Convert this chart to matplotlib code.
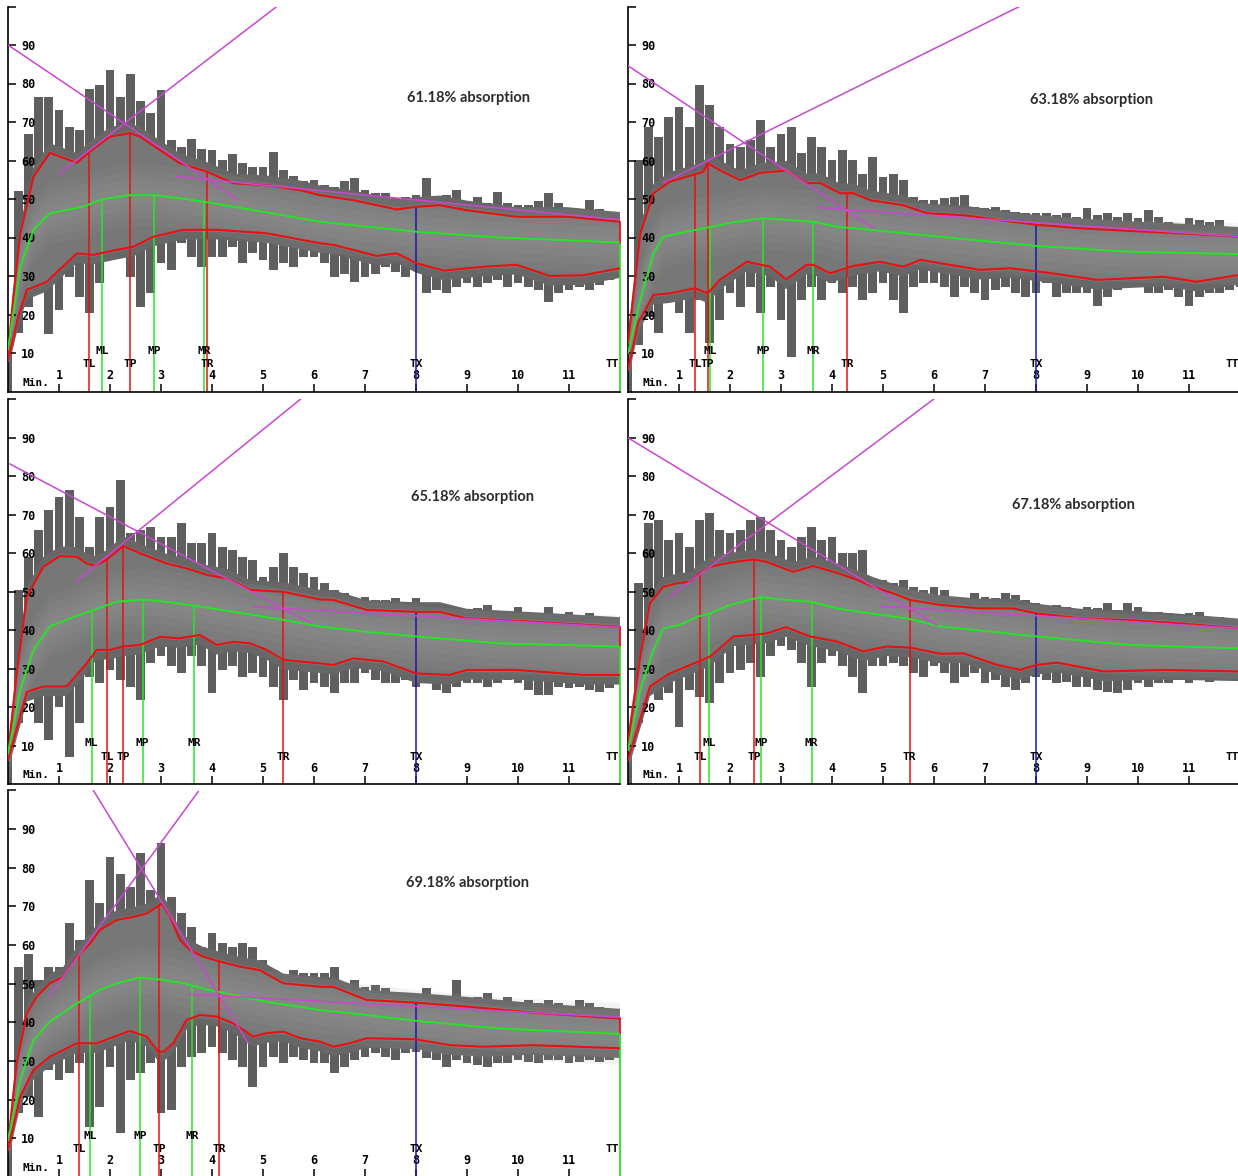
import numpy as np
import matplotlib.pyplot as plt

plt.rcParams['font.family'] = ['DejaVu Sans Mono']

# raw torque signal is sampled every 0.2 min; top/bottom of the noisy trace
raw_t = np.arange(0, 12.01, 0.2)

# ---------- panel 1 : 61.18 % ----------
p1_label = "61.18% absorption"
p1_top = [15, 52, 67, 76.6, 76.6, 73, 68.8, 68, 78.7, 79.6, 83.5, 76.6, 82.5, 75.4, 72.4,
          78.3, 65.3, 63.6, 65.7, 63.1, 62.7, 60.1, 61.8, 59.3, 58.4, 58.4, 62.3, 57.6, 55.9,
          54.6, 55.0, 53.6, 53.2, 54.6, 55.4, 52.3, 51.5, 51.5, 50.2, 50.6, 51.0, 55.4, 50.6,
          51.0, 52.3, 49.4, 50.6, 49.0, 51.9, 49.0, 48.5, 48.5, 49.4, 51.5, 49.0, 47.7, 47.3,
          49.8, 47.3, 46.4, 46.0]
p1_bottom = [0, 15.1, 22, 26.3, 14.9, 21.2, 29.8, 24.6, 20.3, 28.1, 35, 35.8, 29.8, 22, 25.5,
             33.3, 31.5, 38.5, 35, 32.4, 35, 35, 37.6, 33.3, 35.9, 34.1, 31.5, 33.3, 32.4, 35,
             35, 33.3, 29.8, 30.6, 28.5, 29.8, 30.6, 32.4, 31, 29.8, 31.5, 25.5, 26.3, 25.5,
             27.2, 28.1, 27.2, 28.1, 29, 27.2, 28.1, 27.2, 26.3, 23.3, 25.5, 26.3, 27.2, 26.3,
             27.6, 29, 29.8]
p1_upper = [(0, 9), (0.1, 23.8), (0.24, 41), (0.5, 55.8), (0.82, 62), (1.35, 59.4), (1.6, 62.3),
            (2.0, 66.2), (2.39, 67.1), (2.59, 66.2), (2.98, 62.7), (3.37, 59.3), (3.9, 57.1),
            (4.42, 54.1), (5.07, 53.6), (5.73, 52.3), (6.12, 51.0), (6.77, 49.7), (7.62, 47.3),
            (8.01, 48.0), (8.47, 48.4), (8.99, 47.1), (9.97, 45.4), (10.95, 45.4), (12, 44.1)]
p1_mid = [(0, 11), (0.24, 32.4), (0.5, 42), (0.82, 46.3), (1.48, 48), (1.84, 49.9), (2.39, 51),
          (2.85, 51), (3.37, 50.2), (3.83, 49.3), (4.42, 48), (6.12, 44.1), (6.77, 43.2),
          (8.01, 41.5), (9.65, 40), (12, 38.7)]
p1_lower = [(0, 8), (0.2, 19.4), (0.37, 26.4), (0.76, 28.5), (1.35, 35.9), (1.67, 35.5),
            (2.13, 36.8), (2.46, 37.6), (2.85, 40.2), (3.44, 42), (4.09, 42), (5.07, 41.1),
            (6.12, 38.5), (6.38, 38.1), (7.23, 35.2), (7.62, 35.9), (8.01, 33.3), (8.54, 31.4),
            (9.32, 32.4), (9.97, 32.9), (10.63, 30), (11.28, 30.2), (12, 32)]
p1_marks = [("TL", 1.59), ("ML", 1.85), ("TP", 2.39), ("MP", 2.86), ("MR", 3.84), ("TR", 3.91),
            ("TX", 8.0), ("TT", 12.0)]
p1_tangents = [(0, 90, 4.48, 50), (0.99, 56.5, 5.27, 100), (3.31, 55.8, 12, 44.6)]

# ---------- panel 2 : 63.18 % ----------
p2_label = "63.18% absorption"
p2_top = [12, 60, 68.8, 66.2, 71.4, 74, 68.8, 79.6, 74.4, 68.8, 64.4, 63.6, 65.3, 70.5, 63.6,
          67, 68.8, 61.9, 66.2, 63.6, 60.1, 62.7, 60.1, 56.6, 61, 55.8, 56.6, 54.9, 50.6, 49.7,
          49.7, 50.2, 50.6, 51, 48, 47.6, 48, 47.2, 46.7, 46.3, 46.3, 46.3, 45.8, 46.3, 45.4,
          47.6, 45.8, 46.3, 45.4, 46.3, 45, 47.2, 45.4, 44.1, 42.8, 45, 44.6, 44.1, 44.6, 42.8, 42]
p2_bottom = [0, 12, 19.4, 15.1, 23.8, 20.3, 15.1, 23.8, 12.5, 18.6, 25.5, 22, 27.2, 20.3, 27.2,
             18.6, 9, 23.8, 27.2, 23.8, 28.1, 25.5, 27.2, 23.8, 25.5, 28.1, 23.8, 20.3, 27.2,
             28.1, 28.1, 27.2, 24.6, 27.2, 25.5, 23.8, 26.3, 27.2, 25.5, 24.6, 25.5, 28.1, 24.6,
             25.5, 25.5, 25.5, 22.3, 24.6, 26.3, 27.2, 27.2, 25.5, 25.5, 26.3, 24.6, 22.3, 24.6,
             25.5, 25.5, 26.3, 27.2]
p2_upper = [(0, 12.5), (0.24, 41), (0.5, 51.5), (0.82, 54.5), (1.15, 55.8), (1.48, 57.1),
            (1.56, 59.3), (1.8, 57.5), (2.2, 54.9), (2.59, 56.8), (3.1, 57.4), (3.5, 54.1),
            (3.76, 54.2), (4.16, 51.5), (4.42, 51.5), (4.75, 49.7), (5.4, 48.4), (5.86, 46.3),
            (6.58, 45.8), (7.24, 44.6), (8.01, 43.3), (8.86, 42.4), (9.84, 41.7), (10.82, 41.1),
            (12, 40.2)]
p2_mid = [(0, 10), (0.24, 23.8), (0.5, 35.9), (0.69, 40.2), (1.15, 41.5), (1.64, 42.8),
          (2.13, 44.1), (2.65, 45), (3.1, 44.6), (3.63, 44.1), (4.09, 42.8), (4.75, 42),
          (6.12, 40.2), (8.01, 37.8), (9.84, 36.3), (12, 35.7)]
p2_lower = [(0, 5.6), (0.2, 18), (0.5, 25.1), (0.82, 25.5), (1.31, 26.8), (1.56, 25.5), (1.8, 29),
            (2.33, 33.7), (2.79, 32.4), (3.1, 29.1), (3.5, 32.9), (3.63, 32.9), (3.96, 30.7),
            (4.42, 32.6), (4.94, 33.7), (5.4, 32.4), (5.73, 34.2), (6.12, 33.3), (6.9, 31.6),
            (7.49, 32), (8.2, 30.9), (9.19, 29), (10.5, 29.8), (11.15, 28.5), (12, 30.3)]
p2_marks = [("TL", 1.31), ("TP", 1.56), ("ML", 1.61), ("MP", 2.65), ("MR", 3.63), ("TR", 4.29),
            ("TX", 8.0), ("TT", 12.0)]
p2_tangents = [(0, 84.6, 4.81, 42.4), (0.69, 54.2, 7.69, 100.1), (3.7, 47.8, 12, 40.2)]

# ---------- panel 3 : 65.18 % ----------
p3_label = "65.18% absorption"
p3_top = [12, 50.4, 59.1, 66.1, 71.3, 74.7, 76.4, 69.5, 61.7, 69.5, 72.1, 79, 65.2, 66.1, 66.9,
          64.3, 64.3, 67.8, 62.6, 62.6, 65.2, 61.7, 60.9, 59.1, 58.3, 53.9, 56.5, 60, 56.5, 54.8,
          53.9, 52.2, 50.5, 49.6, 48.3, 48.7, 47.9, 47.9, 48.3, 47.4, 48.3, 45.7, 46.5, 45.7,
          45.7, 45.3, 45.7, 46.5, 44.8, 44.8, 46.1, 44.4, 43.5, 46.1, 43.1, 44.8, 43.5, 44.4,
          43.1, 42.7, 41.8]
p3_bottom = [0, 15.8, 24.5, 15.8, 11.5, 20.2, 7.2, 15.8, 28, 26.2, 29.7, 27.1, 25.4, 21.9, 31.4,
             33.2, 30.6, 28.8, 33.2, 30.6, 23.6, 29.7, 30.6, 28, 28.8, 28, 25.4, 21.9, 27.1, 24.5,
             26.2, 25.4, 23.6, 26.2, 26.2, 28.8, 27.1, 26.2, 26.2, 27.1, 25.4, 27.1, 24.5, 23.6,
             25.4, 26.2, 26.2, 25.4, 26.2, 27.1, 26.2, 24.5, 23.2, 23.2, 25.4, 25, 25.4, 24.5,
             24.1, 25, 26.2]
p3_upper = [(0, 7.2), (0.17, 28.8), (0.37, 48.7), (0.69, 56.5), (1.02, 59.3), (1.35, 59.1),
            (1.54, 57.4), (1.71, 56.8), (1.93, 58.3), (2.26, 61.9), (2.59, 60), (3.1, 57.4),
            (3.5, 56.1), (3.9, 54.4), (4.29, 53.5), (4.75, 50.5), (5.4, 50), (6.12, 48),
            (6.38, 47.9), (7.03, 45.3), (8.0, 44.8), (8.47, 44.8), (8.99, 43.1), (10.3, 42.2),
            (12, 40.9)]
p3_mid = [(0, 8), (0.24, 24.5), (0.5, 34.9), (0.82, 41), (1.48, 44.4), (2.13, 47.4), (2.65, 48),
          (3.1, 47.4), (3.7, 46.3), (4.42, 44.8), (5.4, 42.7), (6.12, 41), (7.03, 39.6),
          (8.0, 38.4), (9.65, 36.6), (12, 35.8)]
p3_lower = [(0, 6.3), (0.37, 24), (0.69, 25.4), (1.15, 25.4), (1.54, 31.4), (1.74, 34.9),
            (2.0, 34.9), (2.26, 35.8), (2.59, 36.2), (2.98, 38.3), (3.37, 37.9), (3.76, 38.8),
            (4.09, 36.2), (4.42, 37), (4.75, 36.6), (5.07, 34.9), (5.4, 32.3), (6.12, 31.4),
            (6.38, 31), (6.77, 32.7), (7.36, 31.9), (8.0, 28.8), (8.66, 28.4), (8.99, 29.7),
            (9.97, 29.7), (11.28, 28.4), (12, 28.4)]
p3_marks = [("ML", 1.64), ("TL", 1.95), ("TP", 2.26), ("MP", 2.64), ("MR", 3.65), ("TR", 5.4),
            ("TX", 8.0), ("TT", 12.0)]
p3_tangents = [(0.04, 83.2, 5.95, 41.8), (1.35, 52.9, 5.76, 100.3), (4.81, 46.1, 12, 40.8)]

# ---------- panel 4 : 67.18 % ----------
p4_label = "67.18% absorption"
p4_top = [12, 52.2, 67.8, 68.7, 63.5, 65.2, 61.7, 68.7, 70.4, 66.1, 65.2, 66.1, 68.7, 69.5, 66.1,
          63.5, 61.7, 64.3, 66.9, 63.5, 64.3, 60, 60, 60.9, 52.2, 53, 52.2, 53, 51.3, 50.5, 51.3,
          50.5, 48.7, 47.9, 49.6, 48.7, 48.3, 49.6, 49.2, 47.9, 47, 46.1, 46.5, 46.1, 45.3, 46.1,
          45.7, 47, 45.3, 47, 46.1, 43.5, 44.8, 44.4, 44, 44.4, 44.8, 42.7, 43.5, 42.7, 41.8]
p4_bottom = [0, 15.8, 24.5, 21.9, 23.6, 15, 24.5, 22.8, 21, 26.2, 28.8, 29.7, 31.4, 28, 33.2,
             35.8, 34.9, 31.4, 25.4, 31.4, 33.2, 30.6, 28, 23.6, 30.6, 30.6, 31.4, 30.6, 28.8, 28,
             30.6, 28.8, 26.2, 28, 28.8, 26.2, 27.1, 25.4, 24.5, 26.2, 28, 27.1, 26.2, 26.6, 25.4,
             25.4, 24.5, 24.1, 23.6, 24.5, 26.2, 25.4, 26.2, 26.2, 27.1, 26.2, 27.1, 26.6, 27.1,
             27.1, 27.1]
p4_upper = [(0, 10.6), (0.24, 33.2), (0.43, 47), (0.69, 51.3), (0.95, 52.2), (1.22, 52.6),
            (1.41, 54.8), (1.61, 56.5), (2.0, 57.6), (2.46, 58.4), (2.72, 57.8), (3.05, 56.1),
            (3.24, 55.2), (3.63, 56.7), (4.03, 55.2), (4.42, 53.5), (4.81, 51.3), (5.2, 49.6),
            (5.53, 47.9), (6.12, 46.6), (6.9, 45.7), (7.55, 45.7), (8.01, 44.4), (8.86, 43.1),
            (9.84, 42.6), (10.82, 41.8), (12, 40.5)]
p4_mid = [(0, 8.9), (0.24, 24.5), (0.5, 34.9), (0.69, 40.5), (1.02, 41.4), (1.35, 43.5),
          (1.61, 44.4), (2.0, 46.6), (2.59, 48.6), (3.1, 47.9), (3.6, 47.4), (4.09, 45.7),
          (4.75, 44.4), (5.46, 43.1), (6.12, 41), (8.01, 38.4), (9.84, 36.2), (12, 35.3)]
p4_lower = [(0, 6.3), (0.43, 25.4), (0.82, 28.8), (1.15, 30.6), (1.61, 33.2), (2.07, 38.4),
            (2.46, 38.8), (2.72, 39.2), (3.1, 40.8), (3.57, 38.4), (4.09, 37.1), (4.61, 34.5),
            (5.07, 35.8), (5.53, 35.5), (6.12, 33.9), (6.58, 34), (7.24, 31), (7.69, 29.7),
            (8.01, 31), (8.41, 31.6), (9.33, 29.3), (10.5, 29.7), (12, 29.3)]
p4_marks = [("TL", 1.42), ("ML", 1.59), ("TP", 2.48), ("MP", 2.61), ("MR", 3.6), ("TR", 5.52),
            ("TX", 8.0), ("TT", 12.0)]
p4_tangents = [(0, 90, 6.05, 41.4), (0.82, 48.7, 6.02, 100.3), (4.94, 46.3, 12, 40.5)]

# ---------- panel 5 : 69.18 % ----------
p5_label = "69.18% absorption"
p5_top = [12, 54.4, 57.8, 51, 54.4, 54.4, 65.6, 61.3, 76.8, 70.8, 82.8, 78.5, 75.1, 83.7, 74.2,
          86.3, 72.5, 68.2, 64.7, 59.6, 63, 60.4, 59.6, 60.4, 59.6, 56.1, 53.5, 51, 53.5, 52.7,
          52.7, 52.7, 54.4, 50.1, 51, 49.2, 49.6, 48.8, 47.9, 47.5, 47.1, 48.8, 46.6, 46.6, 51,
          45.8, 46.6, 47.5, 45.8, 46.6, 44.9, 45.8, 44.9, 45.8, 44.9, 44, 45.8, 44.9, 44, 43.2, 42.3]
p5_bottom = [0, 16.5, 20.8, 15.6, 27.7, 25.1, 26.8, 29.4, 13, 18.2, 28.5, 11.3, 25.1, 26.8, 29.4,
             16.5, 17.3, 28.5, 31.1, 32, 33.7, 32, 30.3, 28.5, 23.4, 28.5, 31.1, 29.4, 31.1, 30.3,
             29.4, 29.4, 26.8, 28.5, 30.3, 31.1, 32, 31.1, 30.3, 32, 32.4, 30.7, 30.3, 28.5, 30.3,
             29.4, 29, 28.5, 29.4, 29.4, 30.3, 29.8, 29.4, 30.3, 30.3, 29.4, 29.8, 30.3, 29.8,
             30.3, 31.1]
p5_upper = [(0, 7.8), (0.17, 29.4), (0.37, 42.3), (0.56, 46.6), (0.82, 50.1), (1.08, 51.8),
            (1.35, 57), (1.61, 60.4), (1.8, 63.9), (2.13, 66.5), (2.46, 67.3), (2.72, 68.2),
            (2.92, 69.9), (3.01, 70.8), (3.18, 67.3), (3.37, 61.3), (3.57, 58.7), (3.83, 57),
            (4.16, 55.7), (4.55, 54.4), (4.94, 53.5), (5.4, 50.1), (6.12, 49.2), (6.38, 49.2),
            (7.03, 45.8), (8.0, 45.1), (8.99, 44.1), (10.3, 42.5), (12, 41)]
p5_mid = [(0, 9.6), (0.24, 25.1), (0.5, 35.4), (0.82, 40.2), (1.35, 44.9), (1.8, 48.4),
          (2.13, 50.1), (2.59, 51.6), (2.98, 51.1), (3.44, 50.1), (3.9, 48.5), (4.42, 47.1),
          (5.07, 45.3), (6.12, 43.2), (7.03, 41.9), (8.0, 40.4), (9.65, 38.4), (12, 37)]
p5_lower = [(0, 7), (0.24, 20.8), (0.5, 27.7), (0.82, 31.1), (1.35, 34.6), (1.74, 34.6),
            (2.39, 37.8), (2.72, 36.3), (2.95, 32.4), (3.05, 32.4), (3.24, 34.6), (3.5, 40.6),
            (3.76, 41.9), (4.09, 41.5), (4.42, 39.7), (4.81, 36.3), (5.07, 37.2), (5.4, 37.6),
            (5.73, 35.9), (6.12, 35), (6.38, 33.7), (6.7, 34.6), (7.03, 35.9), (8.0, 35.6),
            (8.66, 34.1), (9.32, 33.7), (10.3, 34.1), (12, 33.3)]
p5_marks = [("TL", 1.39), ("ML", 1.61), ("MP", 2.59), ("TP", 2.96), ("MR", 3.61), ("TR", 4.14),
            ("TX", 8.0), ("TT", 12.0)]
p5_tangents = [(1.67, 100.1, 4.71, 34.6), (0.79, 46.6, 3.73, 99.7), (3.54, 47.3, 12, 41.3)]

# title anchors (min, value) for the absorption text
label_pos = [(9.02, 76.2), (9.08, 75.7), (9.11, 74.5), (8.73, 72.5), (9.0, 76.1)]

RED = '#e81010'
GREEN = '#28e428'
MAGENTA = '#c848d0'
BLUE = '#1818a8'


def draw_panel(ax, top, bottom, upper, mid, lower, marks, tangents, label, lpos):
    ut, uv = np.array(upper).T
    mt, mv = np.array(mid).T
    lt, lv = np.array(lower).T
    top = np.array(top)
    bottom = np.array(bottom)

    # noisy trace: spikes plus a solid band hugging the envelopes
    ax.bar(raw_t, top - bottom, bottom=bottom, width=0.17, color='#5f5f5f', lw=0, zorder=1)
    ax.fill(np.r_[ut, lt[::-1]], np.r_[uv + 2.5, lv[::-1] - 2.5], color='#676767', lw=0,
            zorder=1.1)
    ax.fill(np.r_[ut, lt[::-1]], np.r_[uv + 0.5, lv[::-1] - 0.5], color='#777777', lw=0,
            zorder=1.2)
    for d in (8, 6, 4, 2):
        ax.fill(np.r_[mt, mt[::-1]], np.r_[mv + d, mv[::-1] - d], color='#a0a0a0', alpha=0.12,
                lw=0, zorder=1.3)

    for name, t in marks:
        u_here = np.interp(t, ut, uv)
        m_here = np.interp(t, mt, mv)
        if name == "TT":
            ax.plot([t, t], [0, m_here], color=GREEN, lw=1.3, zorder=2, clip_on=False)
            ax.plot([t, t], [m_here, u_here], color=RED, lw=1.3, zorder=2, clip_on=False)
            ax.text(t - 0.02, 7.2, name, ha='right', va='center', fontsize=8,
                    fontweight='bold', zorder=6)
            continue
        if name == "TX":
            color, top_v = BLUE, u_here
        elif name.startswith("T"):
            color, top_v = RED, u_here
        else:
            color, top_v = GREEN, m_here
        ax.plot([t, t], [0, top_v], color=color, lw=1.1, zorder=2)
        ax.text(t, 10.6 if name.startswith("M") else 7.2, name, ha='center', va='center',
                fontsize=8, fontweight='bold', zorder=6)

    ax.plot(ut, uv, color=RED, lw=1.5, zorder=3)
    ax.plot(lt, lv, color=RED, lw=1.5, zorder=3)
    ax.plot(mt, mv, color=GREEN, lw=1.4, zorder=3)

    for x0, y0, x1, y1 in tangents:
        ax.plot([x0, x1], [y0, y1], color=MAGENTA, lw=1.1, zorder=4)

    ax.text(lpos[0], lpos[1], label, ha='center', va='center', fontfamily='Lato',
            fontsize=10.5, fontweight='bold', color='#2b2b2b')
    ax.text(0.28, 2.3, "Min.", ha='left', va='center', fontsize=8, fontweight='bold', zorder=6)

    ax.set_xlim(0, 12)
    ax.set_ylim(0, 100)
    ax.set_xticks(range(1, 12))
    ax.set_yticks(range(10, 101, 10))
    ax.set_yticklabels([str(v) for v in range(10, 100, 10)] + [''])
    ax.tick_params(direction='in', length=6, width=1.1, labelsize=8.5)
    ax.tick_params(axis='y', pad=-9.5)
    ax.tick_params(axis='x', pad=-7.0)
    for lab in ax.get_yticklabels() + ax.get_xticklabels():
        lab.set_fontweight('bold')
    for lab in ax.get_yticklabels():
        lab.set_horizontalalignment('left')
    for lab in ax.get_xticklabels():
        lab.set_verticalalignment('bottom')
    for side in ('top', 'right'):
        ax.spines[side].set_visible(False)
    for side in ('left', 'bottom'):
        ax.spines[side].set_linewidth(1.2)
    ax.set_facecolor('white')


fig = plt.figure(figsize=(12.38, 11.76), dpi=100)
W, H = 1238.0, 1176.0
col_left = [8 / W, 628 / W]
row_box = [(1 - 391.5 / H, 385 / H), (1 - 784.3 / H, 385 / H), (1 - 1177 / H, 386.6 / H)]

panels = [
    (p1_top, p1_bottom, p1_upper, p1_mid, p1_lower, p1_marks, p1_tangents, p1_label),
    (p2_top, p2_bottom, p2_upper, p2_mid, p2_lower, p2_marks, p2_tangents, p2_label),
    (p3_top, p3_bottom, p3_upper, p3_mid, p3_lower, p3_marks, p3_tangents, p3_label),
    (p4_top, p4_bottom, p4_upper, p4_mid, p4_lower, p4_marks, p4_tangents, p4_label),
    (p5_top, p5_bottom, p5_upper, p5_mid, p5_lower, p5_marks, p5_tangents, p5_label),
]

for i, spec in enumerate(panels):
    row, col = divmod(i, 2)
    bottom, height = row_box[row]
    ax = fig.add_axes([col_left[col], bottom, 612 / W, height])
    draw_panel(ax, *spec, label_pos[i])

fig.savefig("out.png", dpi=100)
